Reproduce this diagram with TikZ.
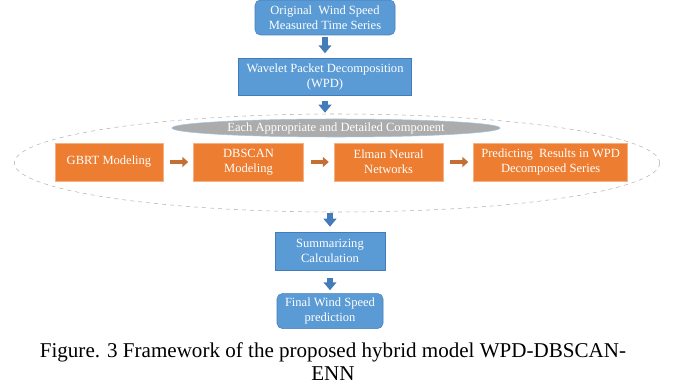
\documentclass[tikz,border=0pt]{standalone}
\usepackage{fontspec}
\setmainfont{Liberation Serif}
\usepackage{xcolor}
\definecolor{boxblue}{RGB}{91,155,213}
\definecolor{boxorange}{RGB}{237,125,49}
\definecolor{arrowblue}{RGB}{68,124,186}
\definecolor{arrowbrown}{RGB}{196,112,52}
\usepackage{tikz}
\usetikzlibrary{positioning}
\usetikzlibrary{arrows.meta}
\usetikzlibrary{shapes.geometric}
\tikzset{blue node/.style={rectangle,fill=boxblue,draw=arrowblue,text=white,align=center,font=\fontsize{9.4}{11.5}\selectfont,inner sep=1pt},
	orange node/.style={rectangle,fill=boxorange,draw=boxorange!60!white,text=white,align=center,font=\fontsize{9.4}{11.5}\selectfont,inner sep=1pt,minimum height=28.5pt},
	down link/.style={-{Triangle[width=9.5pt,length=6pt]},line width=5pt,draw=arrowblue},
	right link/.style={-{Triangle[width=7.5pt,length=4.5pt]},line width=3.5pt,draw=arrowbrown},}

\begin{document}
\begin{tikzpicture}[x=0.75pt,y=-0.75pt]
	\useasboundingbox (0,0) rectangle (681,388);
	\node[blue node, rounded corners=4pt, minimum width=105pt, minimum height=26.25pt] (orig) at (325,17.5) {Original\ \ Wind Speed\\Measured Time Series};
	\node[blue node, minimum width=130pt, minimum height=27.75pt] (wpd) [below = 17.25pt of orig] {Wavelet Packet Decomposition\\(WPD)};

	\node[ellipse, draw=gray!60, dashed, thin, minimum width=484pt, minimum height=73.5pt] (loop) at (337,163) {};
	\node[ellipse, fill=gray!65, draw=boxblue!60, text=white, minimum width=246pt, minimum height=13.5pt, inner sep=0pt, font=\fontsize{9.4}{11.5}\selectfont] (comp) at (336,128) {Each Appropriate and Detailed Component};

	\node[orange node, minimum width=81pt] (gbrt) at (109,162) {GBRT Modeling};
	\node[orange node, minimum width=82.5pt] (dbscan) [right = 22.5pt of gbrt] {DBSCAN\\Modeling};
	\node[orange node, minimum width=81.75pt] (elman) [right = 22.5pt of dbscan] {Elman Neural\\Networks};
	\node[orange node, minimum width=115.5pt] (pred) [right = 22.5pt of elman] {Predicting\ \ Results in WPD\\Decomposed Series};

	\node[blue node, minimum width=82.5pt, minimum height=28.5pt] (sum) at (330,251) {Summarizing\\Calculation};
	\node[blue node, rounded corners=4pt, minimum width=79.5pt, minimum height=26.25pt] (final) [below = 17.25pt of sum] {Final Wind Speed\\prediction};

	\node[align=center, anchor=north, font=\fontsize{15.8}{17.25}\selectfont, inner sep=0pt] (caption) at (333,342) {Figure. 3 Framework of the proposed hybrid model WPD-DBSCAN-\\ENN};

	\draw[down link, shorten <=1.5pt, shorten >=3.75pt] (orig) -- (orig |- wpd.north);
	\draw[down link, shorten <=3.75pt, shorten >=4.5pt] (wpd) -- (wpd |- comp.north);
	\draw[down link, shorten <=0.75pt, shorten >=3.75pt] (sum |- loop.south) -- (sum);
	\draw[down link, shorten <=6pt, shorten >=2.25pt] (sum) -- (final);
	\draw[right link, shorten <=5.25pt, shorten >=3.75pt] (gbrt) -- (dbscan);
	\draw[right link, shorten <=5.25pt, shorten >=3.75pt] (dbscan) -- (elman);
	\draw[right link, shorten <=5.25pt, shorten >=3.75pt] (elman) -- (pred);
\end{tikzpicture}
\end{document}
